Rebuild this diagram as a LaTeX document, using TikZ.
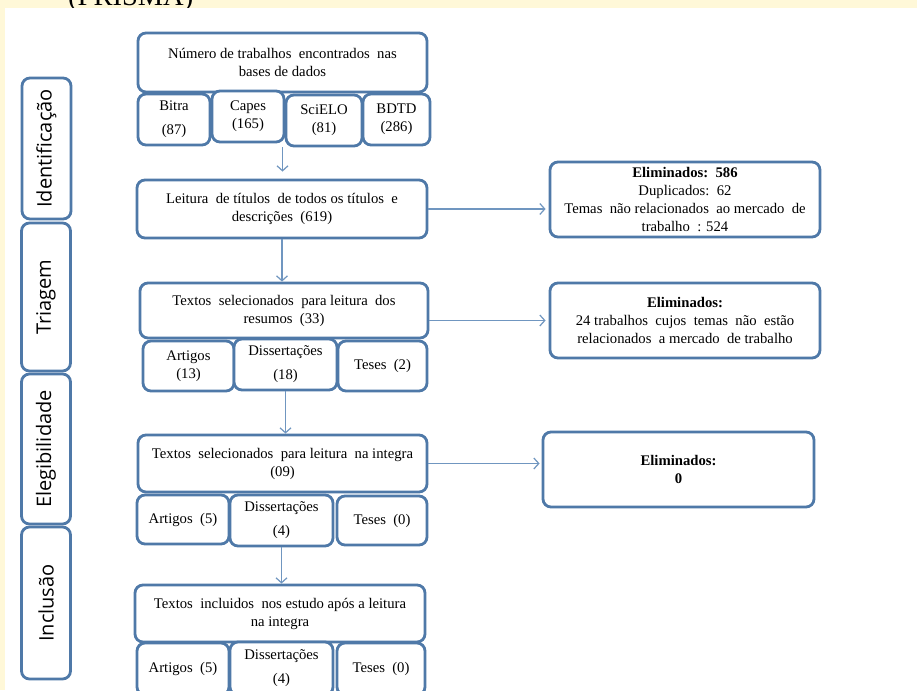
\documentclass[tikz,border=0pt]{standalone}
\usepackage{fontspec}
\setmainfont{Liberation Serif}
\newfontfamily\phasefont{Open Sans}
\usetikzlibrary{arrows.meta,calc}

\definecolor{boxblue}{RGB}{79,121,168}
\definecolor{arrowblue}{RGB}{112,150,192}
\definecolor{cream}{RGB}{255,248,216}

\tikzset{
  stagebox/.style={draw=boxblue,line width=2.8pt,rounded corners=8pt,fill=white,
    align=center,inner sep=0pt,font=\fontsize{14.7}{18}\selectfont},
  subbox/.style={stagebox,minimum height=51pt},
  elimbox/.style={stagebox,minimum width=270pt,minimum height=75pt},
  phasebox/.style={stagebox,rotate=90,minimum height=49pt,
    font=\phasefont\fontsize{20}{24}\selectfont},
  flow/.style={draw=arrowblue,line width=1.2pt,-{Straight Barb[length=5pt,width=11pt]}},
}

\begin{document}
\begin{tikzpicture}[x=1pt,y=-1pt]
  \useasboundingbox (0,0) rectangle (917,690);
  \fill[cream] (0,0) rectangle (917,690);
  \node[anchor=base west,inner sep=0pt,font=\fontsize{28.5}{30}\selectfont] (titulo) at (68,6) {(PRISMA)};
  \fill[white] (5,8) rectangle (917,690);

  % fases
  \node[phasebox,minimum width=141pt] (ident) at (46.5,148.5) {Identificação};
  \node[phasebox,minimum width=148pt] (triagem) at (46,297) {Triagem};
  \node[phasebox,minimum width=150pt] (eleg) at (46,449) {Elegibilidade};
  \node[phasebox,minimum width=152pt] (inclusao) at (46,603) {Inclusão};

  % identificacao
  \node[stagebox,minimum width=289pt,minimum height=59pt] (numtrab) at (282.5,62.5)
    {Número de trabalhos~ encontrados~ nas\\bases de dados};
  \node[subbox,minimum width=72pt] (bitra) at (174,119.5) {Bitra\\[6pt](87)};
  \node[subbox,minimum width=72pt] (capes) at (248,116.5) {Capes\\(165)};
  \node[subbox,minimum width=76pt] (scielo) at (324,120.5) {SciELO\\(81)};
  \node[subbox,minimum width=67pt] (bdtd) at (396.5,119.5) {BDTD\\(286)};

  % triagem
  \node[stagebox,minimum width=290pt,minimum height=58pt] (leitura) at (282,209)
    {Leitura~ de títulos~ de todos os títulos~ e\\descrições~ (619)};
  \node[stagebox,minimum width=288pt,minimum height=55pt] (resumos) at (284,310.5)
    {Textos~ selecionados~ para leitura~ dos\\resumos~ (33)};
  \node[subbox,minimum width=91pt,minimum height=50pt] (art13) at (188.5,366) {Artigos\\(13)};
  \node[subbox,minimum width=103pt] (diss18) at (285.5,364.5) {Dissertações\\[6pt](18)};
  \node[subbox,minimum width=89pt,minimum height=50pt] (teses2) at (382.5,366) {Teses~ (2)};

  % elegibilidade
  \node[stagebox,minimum width=289pt,minimum height=57pt] (integra) at (282.5,463.5)
    {Textos~ selecionados~ para leitura~ na integra\\(09)};
  \node[subbox,minimum width=92pt,minimum height=49pt] (art5a) at (183,519.5) {Artigos~ (5)};
  \node[subbox,minimum width=103pt] (diss4a) at (281.5,520.5) {Dissertações\\[6pt](4)};
  \node[subbox,minimum width=90pt,minimum height=49pt] (teses0a) at (382,520.5) {Teses~ (0)};

  % inclusao
  \node[stagebox,minimum width=290pt,minimum height=57pt] (incluidos) at (280,613.5)
    {Textos~ incluidos~ nos estudo após a leitura\\na integra};
  \node[subbox,minimum width=92pt,minimum height=52pt] (art5b) at (183,669) {Artigos~ (5)};
  \node[subbox,minimum width=103pt,minimum height=53pt] (diss4b) at (281.5,668.5) {Dissertações\\[6pt](4)};
  \node[subbox,minimum width=88pt,minimum height=52pt] (teses0b) at (381,669) {Teses~ (0)};

  % eliminados
  \node[elimbox] (elim1) at (685,199.5)
    {\textbf{Eliminados:~~586}\\Duplicados:~~62\\Temas~ não relacionados~~ao mercado~ de\\trabalho~~: 524};
  \node[elimbox] (elim2) at (685,320.5)
    {\textbf{Eliminados:}\\24 trabalhos~ cujos~ temas~ não~ estão\\relacionados~~a mercado~ de trabalho};
  \node[elimbox,minimum width=271pt] (elim3) at (678.5,469.5)
    {\textbf{Eliminados:}\\\textbf{0}};

  % setas
  \draw[flow,shorten >=7pt] (numtrab.south |- scielo.south) -- (numtrab.south |- leitura.north);
  \draw[flow] (leitura.south) -- (leitura.south |- resumos.north);
  \draw[flow] (diss18.south) -- (diss18.south |- integra.north);
  \draw[flow] (diss4a.south) -- (diss4a.south |- incluidos.north);
  \draw[flow,shorten >=3pt] (leitura.east) -- (leitura.east -| elim1.west);
  \draw[flow,shorten >=3pt] (elim2.west -| resumos.east) -- (elim2.west);
  \draw[flow,shorten >=2pt] (integra.east) -- (integra.east -| elim3.west);
\end{tikzpicture}
\end{document}
